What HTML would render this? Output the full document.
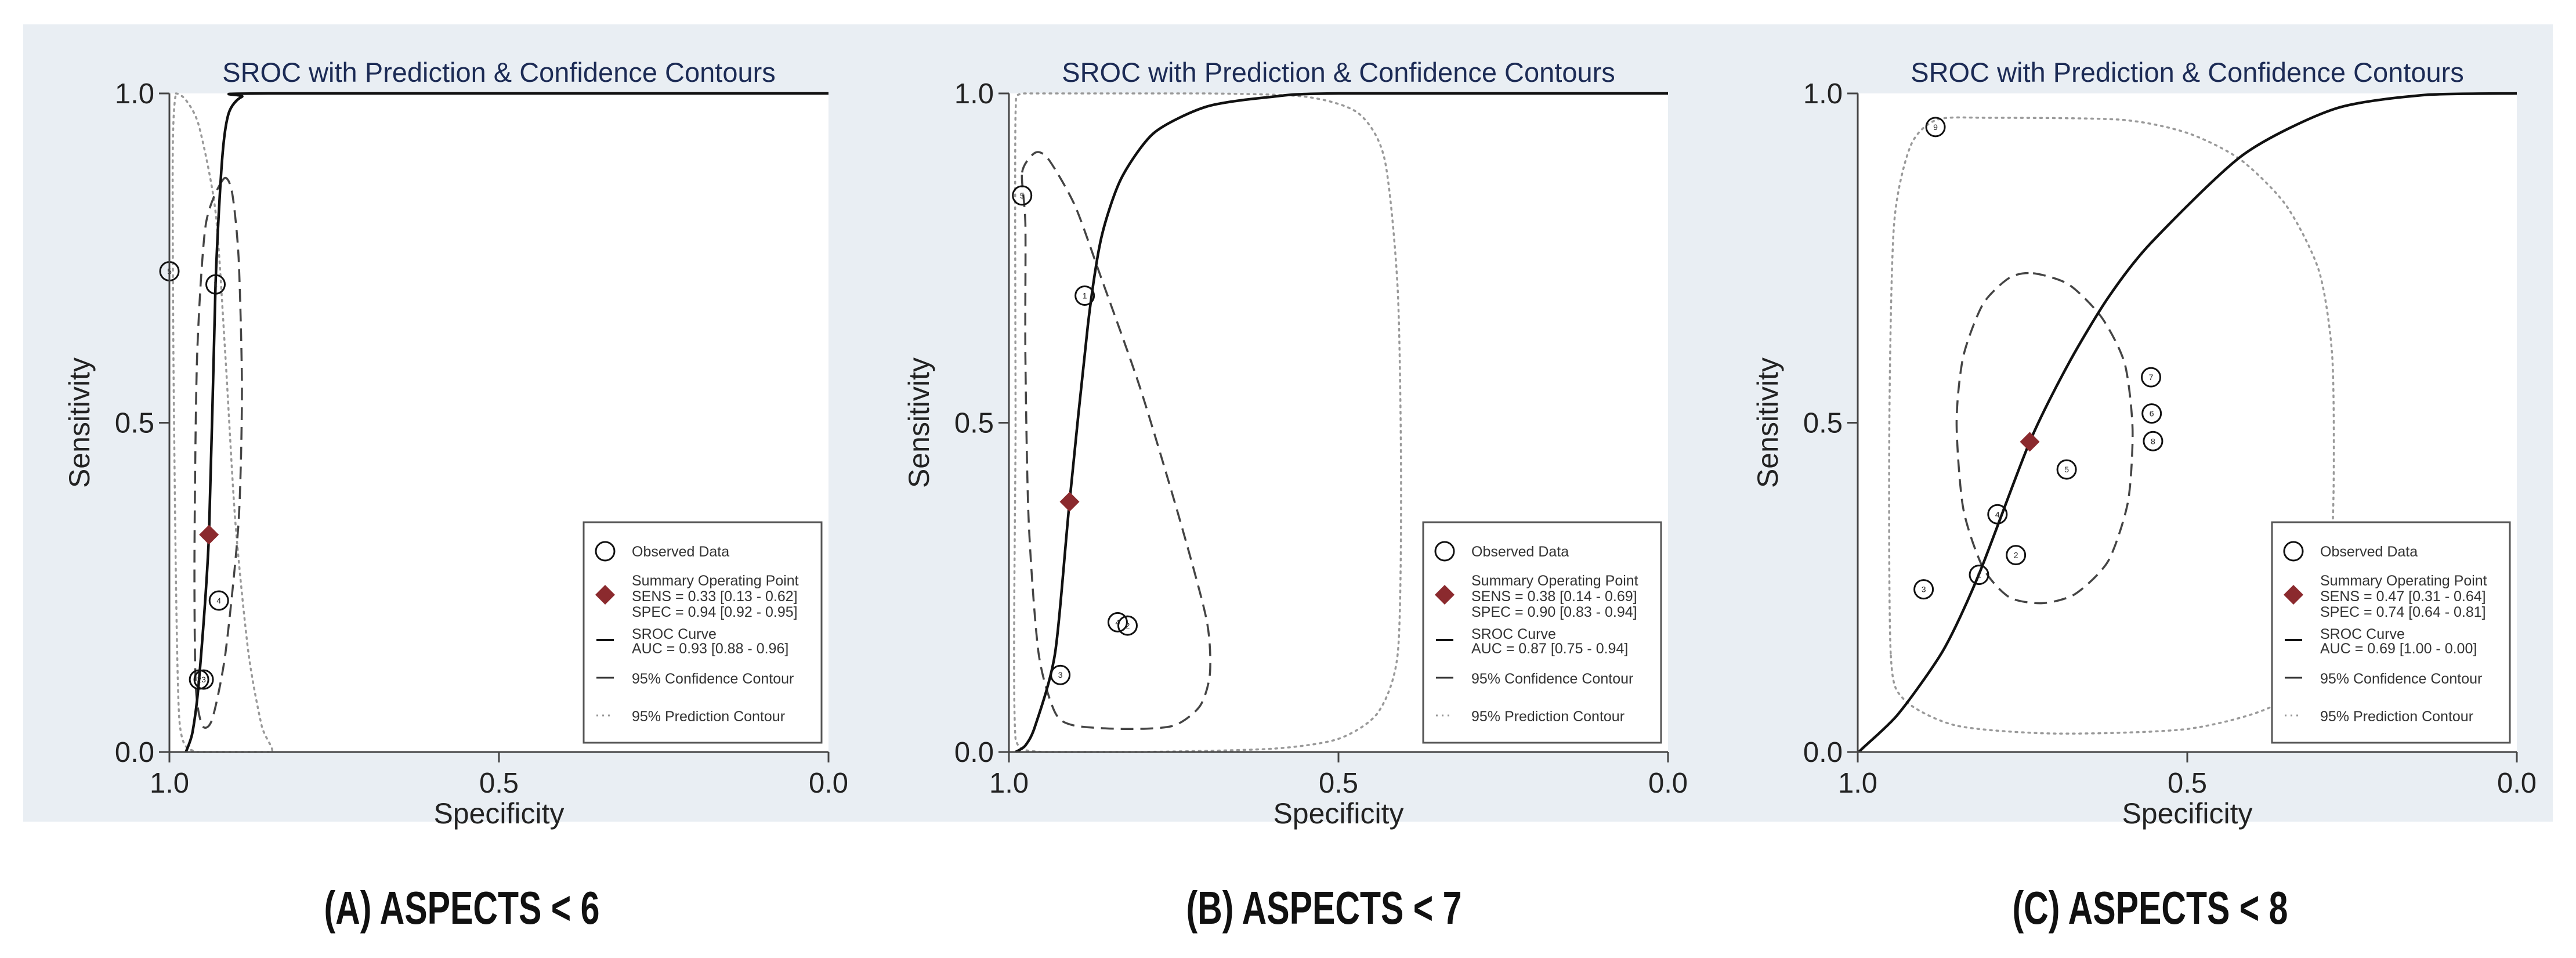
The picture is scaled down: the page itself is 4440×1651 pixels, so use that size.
<!DOCTYPE html>
<html><head><meta charset="utf-8">
<style>
html,body{margin:0;padding:0;background:#fff;}
svg{display:block;}
text{font-family:"Liberation Sans",Arial,sans-serif;}
</style></head>
<body>
<svg id="fig" width="4440" height="1651" viewBox="0 0 4440 1651" xmlns="http://www.w3.org/2000/svg">
<rect x="40" y="42" width="4360" height="1374" fill="#e9eef3"/>
</svg>
<script>
// ---------- data (specificity, sensitivity) ----------
const xTicks = [1.0, 0.5, 0.0];
const yTicks = [0.0, 0.5, 1.0];
const tickLabels = ["0.0", "0.5", "1.0"];

// Panel A
const aStudyLabels = ["5","1","4","2","3"];
const aStudySpec = [1.0, 0.93, 0.925, 0.955, 0.948];
const aStudySens = [0.73, 0.71, 0.23, 0.11, 0.11];
const aSummary = [0.94, 0.33];
const aSrocSpec = [0.975,0.965,0.955,0.94,0.93,0.92,0.91,0.89,0.85,0.0];
const aSrocSens = [0.0,0.03,0.11,0.33,0.71,0.9,0.97,0.995,1.0,1.0];
const aConfSpec = [0.918,0.945,0.958,0.962,0.96,0.95,0.935,0.915,0.895,0.89,0.895,0.905,0.918];
const aConfSens = [0.87,0.8,0.6,0.3,0.1,0.04,0.05,0.15,0.35,0.55,0.75,0.85,0.87];
const aPredSpec = [0.99,0.975,0.955,0.93,0.915,0.9,0.88,0.86,0.845,0.9,0.96,0.985,0.993,0.995,0.99];
const aPredSens = [1.0,0.99,0.95,0.82,0.6,0.35,0.15,0.04,0.0,0.0,0.0,0.05,0.5,0.9,1.0];
const aLegend = ["SENS = 0.33 [0.13 - 0.62]","SPEC = 0.94 [0.92 - 0.95]","AUC = 0.93 [0.88 - 0.96]"];

// Panel B
const bStudyLabels = ["5","1","4","2","3"];
const bStudySpec = [0.98, 0.885, 0.835, 0.82, 0.922];
const bStudySens = [0.845, 0.693, 0.197, 0.192, 0.117];
const bSummary = [0.908, 0.38];
const bSrocSpec = [0.99,0.975,0.96,0.93,0.908,0.88,0.86,0.83,0.78,0.7,0.6,0.5,0.0];
const bSrocSens = [0.0,0.01,0.04,0.15,0.38,0.65,0.78,0.87,0.94,0.98,0.995,1.0,1.0];
const bConfSpec = [0.98,0.96,0.94,0.9,0.86,0.8,0.74,0.7,0.695,0.71,0.75,0.82,0.9,0.93,0.955,0.97,0.975,0.975,0.98];
const bConfSens = [0.88,0.91,0.9,0.83,0.72,0.55,0.35,0.2,0.12,0.07,0.04,0.035,0.04,0.06,0.15,0.35,0.6,0.8,0.88];
const bPredSpec = [0.99,0.99,0.99,0.98,0.9,0.7,0.55,0.47,0.43,0.41,0.405,0.41,0.44,0.5,0.6,0.8,0.95,0.99];
const bPredSens = [0.02,0.5,0.97,1.0,1.0,1.0,0.995,0.97,0.9,0.7,0.4,0.15,0.06,0.02,0.005,0.0,0.0,0.02];
const bLegend = ["SENS = 0.38 [0.14 - 0.69]","SPEC = 0.90 [0.83 - 0.94]","AUC = 0.87 [0.75 - 0.94]"];

// Panel C
const cStudyLabels = ["9","7","6","8","5","4","2","1","3"];
const cStudySpec = [0.882,0.555,0.554,0.552,0.683,0.788,0.76,0.816,0.9];
const cStudySens = [0.949,0.569,0.514,0.472,0.429,0.361,0.299,0.269,0.247];
const cSummary = [0.739, 0.471];
const cSrocSpec = [1.0,0.94,0.87,0.816,0.739,0.68,0.62,0.555,0.415,0.275,0.135,0.0];
const cSrocSens = [0.0,0.056,0.155,0.27,0.471,0.59,0.69,0.773,0.907,0.977,0.998,1.0];
const cConfSpec = [0.734,0.68,0.63,0.595,0.583,0.59,0.62,0.67,0.72,0.77,0.81,0.84,0.85,0.84,0.81,0.77,0.734];
const cConfSens = [0.727,0.71,0.66,0.59,0.49,0.38,0.29,0.24,0.226,0.235,0.28,0.37,0.5,0.6,0.68,0.72,0.727];
const cPredSpec = [0.95,0.952,0.945,0.92,0.88,0.8,0.6,0.5,0.42,0.35,0.3,0.28,0.278,0.285,0.31,0.37,0.5,0.7,0.85,0.93,0.95];
const cPredSens = [0.15,0.5,0.8,0.92,0.96,0.963,0.96,0.94,0.9,0.83,0.73,0.6,0.4,0.25,0.14,0.07,0.035,0.028,0.04,0.08,0.15];
const cLegend = ["SENS = 0.47 [0.31 - 0.64]","SPEC = 0.74 [0.64 - 0.81]","AUC = 0.69 [1.00 - 0.00]"];

const panelTitles = ["(A) ASPECTS < 6","(B) ASPECTS < 7","(C) ASPECTS < 8"];

// ---------- drawing ----------
const NS = "http://www.w3.org/2000/svg";
const svg = document.getElementById("fig");
function mk(tag, attrs, parent){
  const e = document.createElementNS(NS, tag);
  for (const k in attrs) e.setAttribute(k, attrs[k]);
  (parent||svg).appendChild(e);
  return e;
}
const TOP = 161, BOT = 1296, W = 1136;
function smoothPath(pts, closed, xmin, xmax){
  const cl = (v,a,b)=>Math.max(a,Math.min(b,v));
  const fx = v=>cl(v,xmin,xmax).toFixed(1), fy = v=>cl(v,TOP,BOT).toFixed(1);
  let d = "M" + fx(pts[0][0]) + "," + fy(pts[0][1]);
  const n = pts.length;
  const k = 8;
  for (let i = 0; i < n - 1; i++){
    const p0 = pts[i===0 ? (closed ? n-2 : 0) : i-1];
    const p1 = pts[i], p2 = pts[i+1];
    const p3 = pts[i+2 < n ? i+2 : (closed ? 1 : n-1)];
    const c1x = p1[0] + (p2[0]-p0[0])/k, c1y = p1[1] + (p2[1]-p0[1])/k;
    const c2x = p2[0] - (p3[0]-p1[0])/k, c2y = p2[1] - (p3[1]-p1[1])/k;
    d += " C" + fx(c1x)+","+fy(c1y)+" "+fx(c2x)+","+fy(c2y)+" "+fx(p2[0])+","+fy(p2[1]);
  }
  return d;
}

function drawPanel(key, left, d){
  const sx = s => left + (1 - s) * W;
  const sy = v => BOT - v * (BOT - TOP);
  const g = mk("g", {});
  
  
  const cx = left + W/2;
  const xmin = left + 2, xmax = left + W;

  const pa = mk("rect", {x:left, y:TOP, width:W, height:BOT-TOP, fill:"#ffffff"}, g);
  
  

  const tt = mk("text", {x:cx, y:141, "text-anchor":"middle", "font-size":"47", fill:"#1c2b55"}, g);
  tt.textContent = "SROC with Prediction & Confidence Contours";
  
  

  const pp = d.predSpec.map((s,i)=>[sx(s), sy(d.predSens[i])]);
  const pred = mk("path", {d:smoothPath(pp,true,xmin,xmax), fill:"none", stroke:"#9a9a9a", "stroke-width":"3.5", "stroke-dasharray":"3 8", "stroke-linecap":"round"}, g);
  
  

  const cp = d.confSpec.map((s,i)=>[sx(s), sy(d.confSens[i])]);
  const conf = mk("path", {d:smoothPath(cp,true,xmin,xmax), fill:"none", stroke:"#444", "stroke-width":"3.5", "stroke-dasharray":"22 12"}, g);
  
  

  const sp = d.srocSpec.map((s,i)=>[sx(s), sy(d.srocSens[i])]);
  const sroc = mk("path", {d:smoothPath(sp,false,xmin,xmax), fill:"none", stroke:"#111", "stroke-width":"4.5"}, g);
  
  

  d.studySpec.forEach((s,i)=>{
    const c = mk("circle", {cx:sx(s), cy:sy(d.studySens[i]), r:16, fill:"none", stroke:"#111", "stroke-width":"3"}, g);
    
    
    const t = mk("text", {x:sx(s), y:sy(d.studySens[i])+5, "text-anchor":"middle", "font-size":"14", fill:"#222"}, g);
    t.textContent = d.studyLabels[i];
    
    
  });

  const mx = sx(d.summary[0]), my = sy(d.summary[1]);
  const dia = mk("polygon", {points:`${mx},${my-17} ${mx+17},${my} ${mx},${my+17} ${mx-17},${my}`, fill:"#8b2a2e"}, g);
  
  

  const ya = mk("line", {x1:left, y1:TOP, x2:left, y2:BOT, stroke:"#444", "stroke-width":"3"}, g);
  
  
  const xa = mk("line", {x1:left, y1:BOT, x2:left+W, y2:BOT, stroke:"#444", "stroke-width":"3"}, g);
  
  
  yTicks.forEach((v,i)=>{
    const tk = mk("line", {x1:left-18, y1:sy(v), x2:left, y2:sy(v), stroke:"#444", "stroke-width":"3"}, g);
    
    
    const tl = mk("text", {x:left-26, y:sy(v)+17, "text-anchor":"end", "font-size":"49", fill:"#222"}, g);
    tl.textContent = tickLabels[i];
    
    
  });
  xTicks.forEach((v)=>{
    const tk = mk("line", {x1:sx(v), y1:BOT, x2:sx(v), y2:BOT+18, stroke:"#444", "stroke-width":"3"}, g);
    
    
    const tl = mk("text", {x:sx(v), y:BOT+70, "text-anchor":"middle", "font-size":"49", fill:"#222"}, g);
    tl.textContent = v.toFixed(1);
    
    
  });
  const xt = mk("text", {x:cx, y:1419, "text-anchor":"middle", "font-size":"50", fill:"#222"}, g);
  xt.textContent = "Specificity";
  
  
  const ytx = left - 138, yty = (TOP+BOT)/2;
  const yt = mk("text", {x:ytx, y:yty, "text-anchor":"middle", "font-size":"50", fill:"#222", transform:`rotate(-90 ${ytx} ${yty})`}, g);
  yt.textContent = "Sensitivity";
  
  

  const lx = left + W - 12 - 410, ly = 900;
  const lg = mk("g", {}, g);
  
  
  mk("rect", {x:lx, y:ly, width:410, height:380, fill:"#fff", stroke:"#555", "stroke-width":"3"}, lg);
  const ix = lx + 37, tx = lx + 83;
  mk("circle", {cx:ix, cy:ly+50, r:16, fill:"none", stroke:"#111", "stroke-width":"3"}, lg);
  mk("polygon", {points:`${ix},${ly+108} ${ix+17},${ly+125} ${ix},${ly+142} ${ix-17},${ly+125}`, fill:"#8b2a2e"}, lg);
  mk("line", {x1:ix-15, y1:ly+203, x2:ix+15, y2:ly+203, stroke:"#111", "stroke-width":"4"}, lg);
  mk("line", {x1:ix-15, y1:ly+268, x2:ix+15, y2:ly+268, stroke:"#333", "stroke-width":"3"}, lg);
  mk("line", {x1:ix-15, y1:ly+333, x2:ix+15, y2:ly+333, stroke:"#999", "stroke-width":"3", "stroke-dasharray":"3 7"}, lg);
  const lines = [
    ["Observed Data", 59],
    ["Summary Operating Point", 109],
    [d.legend[0], 136],
    [d.legend[1], 163],
    ["SROC Curve", 201],
    [d.legend[2], 226],
    ["95% Confidence Contour", 278],
    ["95% Prediction Contour", 343]
  ];
  lines.forEach(l=>{
    const t = mk("text", {x:tx, y:ly+l[1], "font-size":"25", fill:"#333"}, lg);
    t.textContent = l[0];
    
    
  });

  const cap = mk("text", {x:d.capX, y:1592, "text-anchor":"middle", "font-size":"80", "font-weight":"bold", fill:"#111", textLength:"475", lengthAdjust:"spacingAndGlyphs"});
  cap.textContent = d.caption;
  
  
}

drawPanel("a", 292, {studyLabels:aStudyLabels, studySpec:aStudySpec, studySens:aStudySens, summary:aSummary,
  srocSpec:aSrocSpec, srocSens:aSrocSens, confSpec:aConfSpec, confSens:aConfSens, predSpec:aPredSpec, predSens:aPredSens,
  legend:aLegend, caption:panelTitles[0], capX:796});
drawPanel("b", 1739, {studyLabels:bStudyLabels, studySpec:bStudySpec, studySens:bStudySens, summary:bSummary,
  srocSpec:bSrocSpec, srocSens:bSrocSens, confSpec:bConfSpec, confSens:bConfSens, predSpec:bPredSpec, predSens:bPredSens,
  legend:bLegend, caption:panelTitles[1], capX:2282});
drawPanel("c", 3202, {studyLabels:cStudyLabels, studySpec:cStudySpec, studySens:cStudySens, summary:cSummary,
  srocSpec:cSrocSpec, srocSens:cSrocSens, confSpec:cConfSpec, confSens:cConfSens, predSpec:cPredSpec, predSens:cPredSens,
  legend:cLegend, caption:panelTitles[2], capX:3706});
</script>
</body></html>
